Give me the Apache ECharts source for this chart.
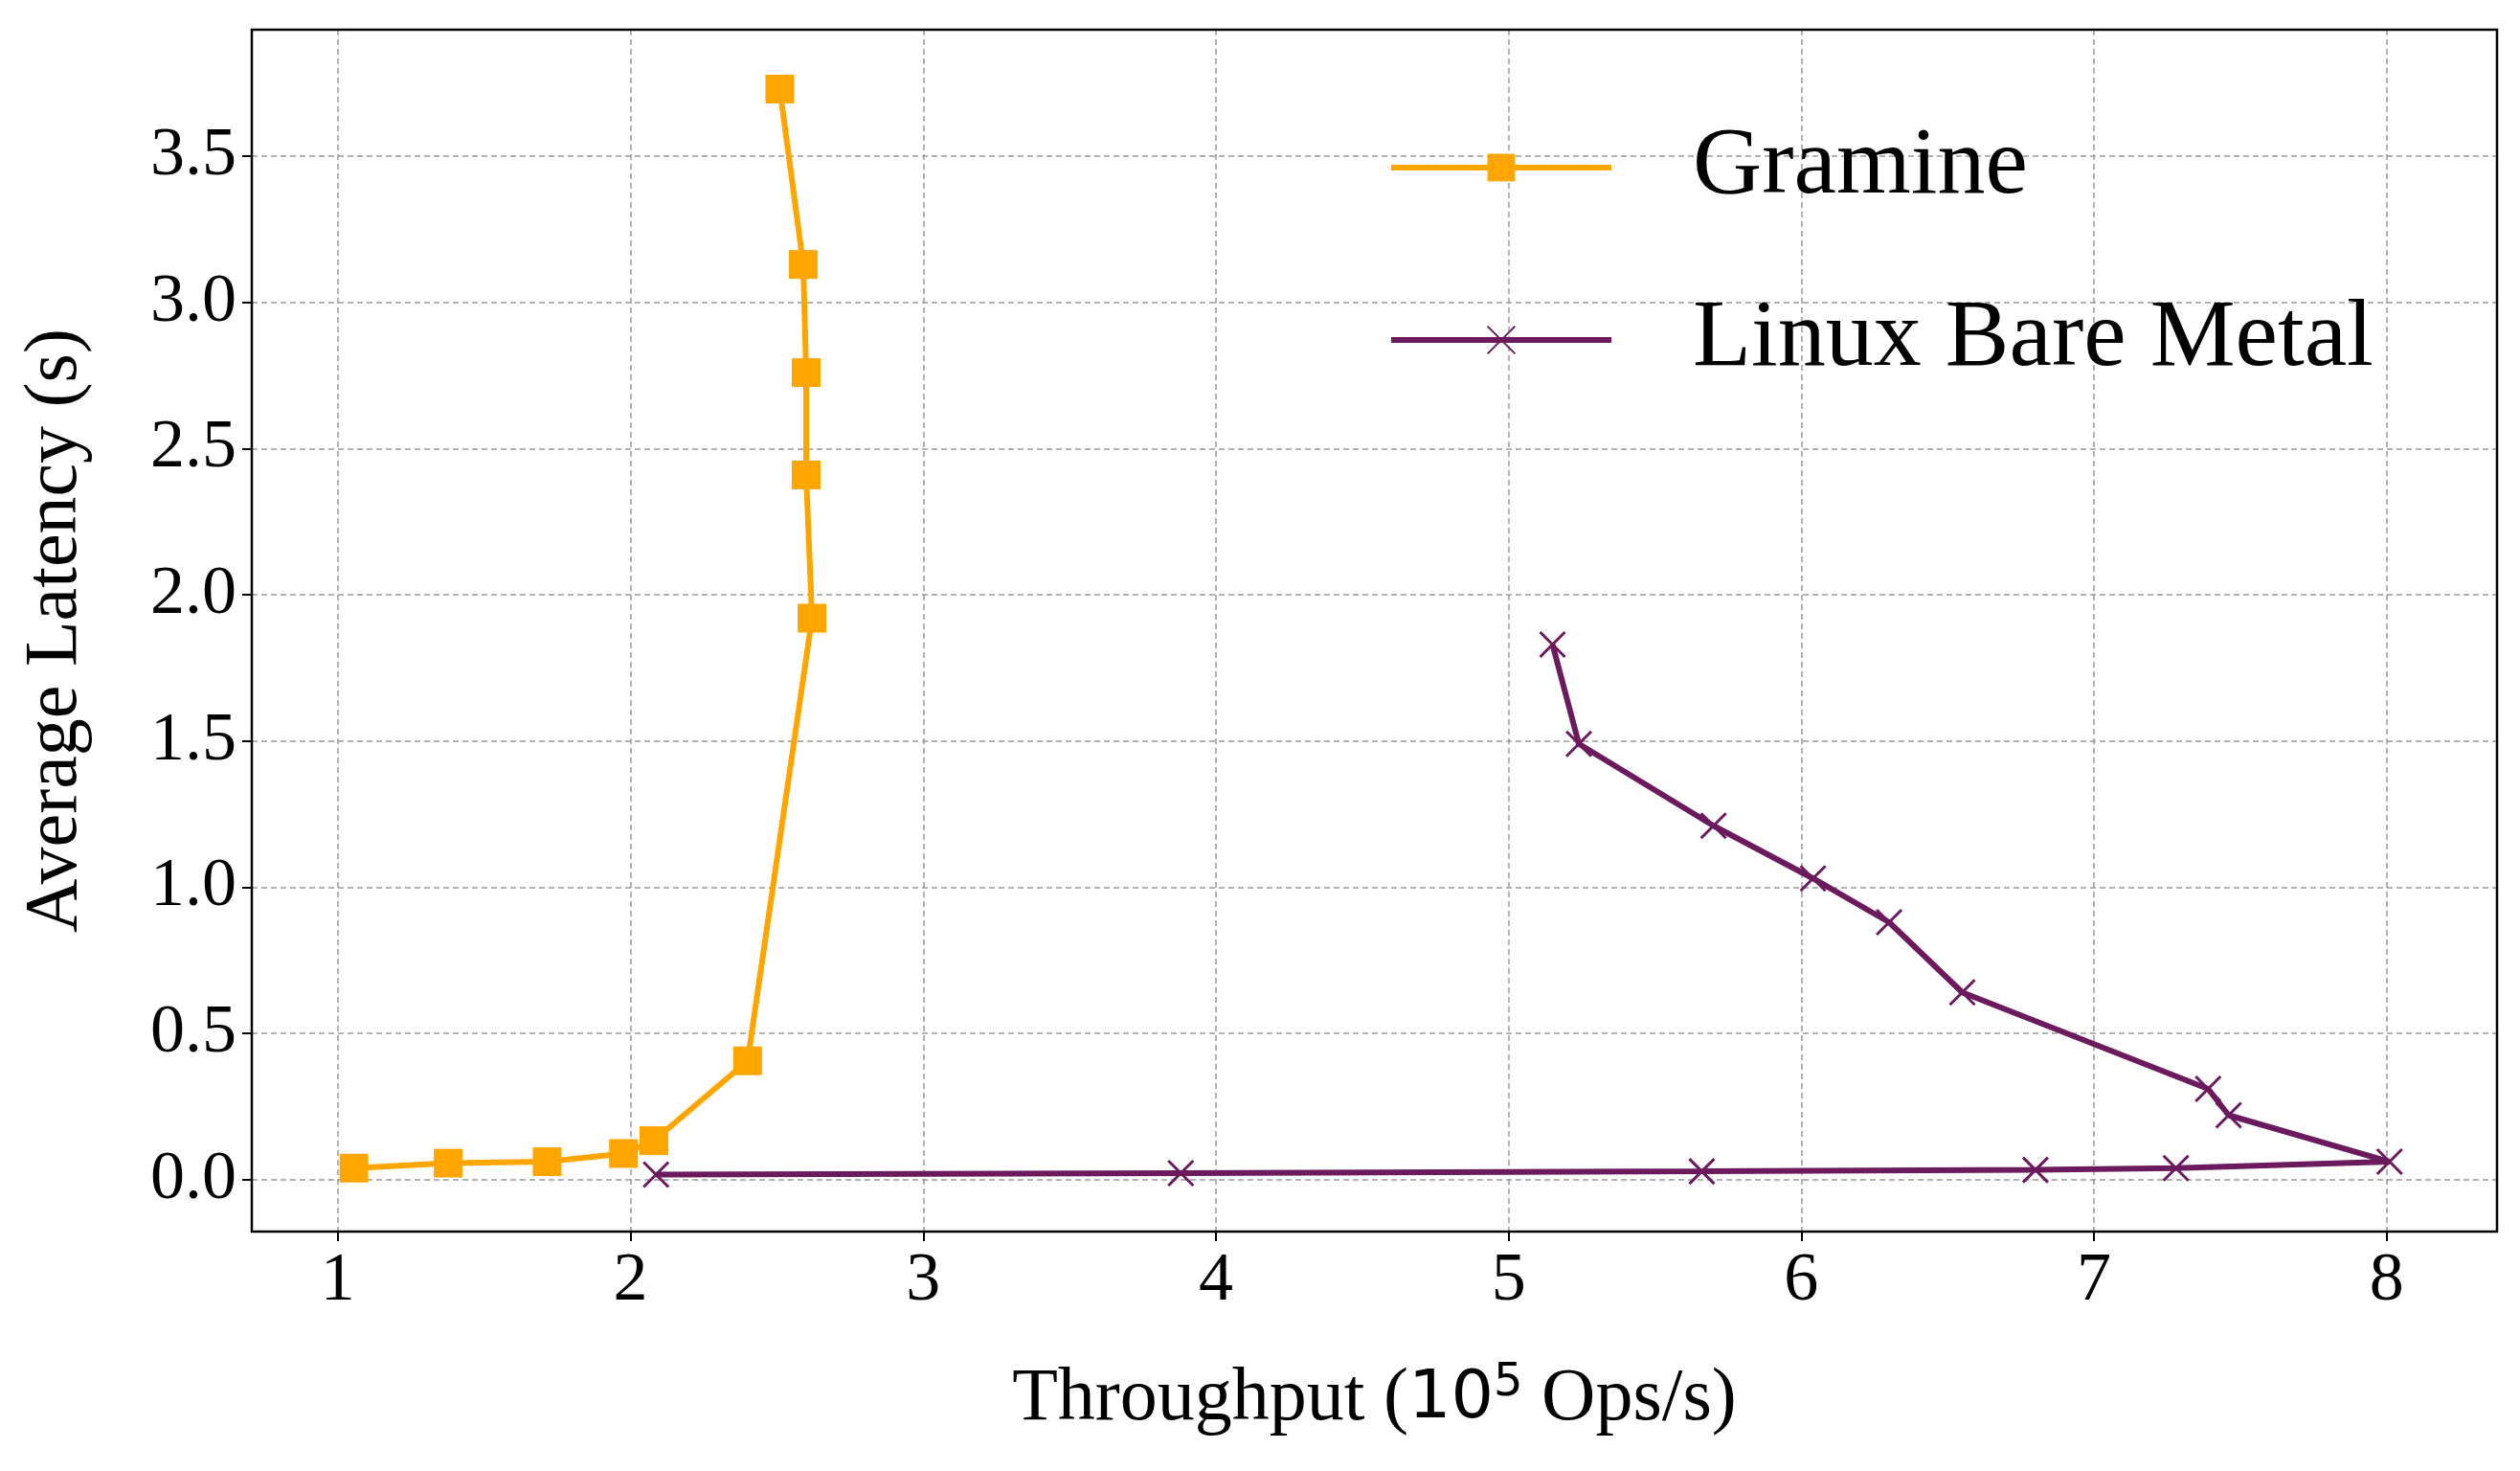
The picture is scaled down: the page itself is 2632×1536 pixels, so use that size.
<!DOCTYPE html>
<html><head><meta charset="utf-8">
<script src="https://cdn.jsdelivr.net/npm/echarts@6/dist/echarts.min.js"></script>
<style>html,body{margin:0;padding:0;background:#fff}#c{width:2632px;height:1536px}</style>
</head><body><div id="c"></div>
<script>
const gramineX = [1.055, 1.377, 1.715, 1.976, 2.08, 2.40, 2.62, 2.60, 2.60, 2.59, 2.51];
const gramineY = [0.039, 0.056, 0.061, 0.089, 0.133, 0.406, 1.92, 2.41, 2.76, 3.13, 3.73];
const linuxX = [2.087, 3.88, 5.66, 6.80, 7.28, 8.01, 7.46, 7.39, 6.55, 6.30, 6.04, 5.70, 5.24, 5.15];
const linuxY = [0.017, 0.022, 0.028, 0.033, 0.039, 0.061, 0.22, 0.31, 0.64, 0.88, 1.03, 1.21, 1.49, 1.83];
const seriesNames = ['Gramine', 'Linux Bare Metal'];
const zip = (a, b) => a.map((v, i) => [v, b[i]]);
const F = 'Liberation Serif';
const G = {left: 263, right: 24, top: 31, bottom: 250};
const chart = echarts.init(document.getElementById('c'));
const split = {show: true, lineStyle: {color: '#999', type: [6, 4], width: 1.5}};
chart.setOption({
  animation: false,
  backgroundColor: '#fff',
  grid: G,
  graphic: [{type: 'rect', z: 100, silent: true,
    shape: {x: G.left, y: G.top, width: 2632 - G.left - G.right, height: 1536 - G.top - G.bottom},
    style: {fill: 'none', stroke: '#000', lineWidth: 2.5}}],
  xAxis: {
    type: 'value', min: 0.706, max: 8.377, minInterval: 1, maxInterval: 1, splitNumber: 8,
    axisLine: {onZero: false, lineStyle: {color: '#000', width: 2}}, axisTick: {length: 10, lineStyle: {width: 2}},
    axisLabel: {fontFamily: F, fontSize: 72, color: '#000', margin: 16, showMinLabel: false, showMaxLabel: false},
    splitLine: split,
    name: '{a|Throughput (}{b|10}{c|5}{a| Ops/s)}', nameLocation: 'middle', nameGap: 135,
    nameTextStyle: {rich: {
      a: {fontFamily: F, fontSize: 78, color: '#000'},
      b: {fontFamily: 'DejaVu Sans', fontSize: 70, color: '#000'},
      c: {fontFamily: 'DejaVu Sans', fontSize: 48, color: '#000', verticalAlign: 'top', padding: [0, 0, 34, 0]}
    }}
  },
  yAxis: {
    type: 'value', min: -0.178, max: 3.933, minInterval: 0.5, maxInterval: 0.5, splitNumber: 8,
    axisLine: {show: true, onZero: false, lineStyle: {color: '#000', width: 2}}, axisTick: {show: true, length: 10, lineStyle: {width: 2}},
    axisLabel: {fontFamily: F, fontSize: 72, color: '#000', margin: 16, showMinLabel: false, showMaxLabel: false,
      formatter: v => v.toFixed(1)},
    splitLine: split,
    name: 'Average Latency (s)', nameLocation: 'middle', nameGap: 165,
    nameTextStyle: {fontFamily: F, fontSize: 78, color: '#000'}
  },
  legend: {
    orient: 'vertical', left: 1445, top: 120, itemWidth: 230, itemHeight: 36, itemGap: 80,
    textStyle: {fontFamily: F, fontSize: 100, color: '#000', padding: [0, 0, 0, 80]},
    lineStyle: {width: 6},
    data: seriesNames
  },
  series: [
    {name: seriesNames[0], type: 'line', data: zip(gramineX, gramineY), symbol: 'rect', symbolSize: 30,
      color: '#FFA500', lineStyle: {width: 6, color: '#FFA500'}, itemStyle: {color: '#FFA500'}},
    {name: seriesNames[1], type: 'line', data: zip(linuxX, linuxY),
      symbol: 'path://M0,0L10,10M10,0L0,10', symbolSize: 26,
      color: '#6B1A5E', lineStyle: {width: 6, color: '#6B1A5E'},
      itemStyle: {color: 'rgba(0,0,0,0)', borderColor: '#6B1A5E', borderWidth: 3}}
  ]
});
</script></body></html>
